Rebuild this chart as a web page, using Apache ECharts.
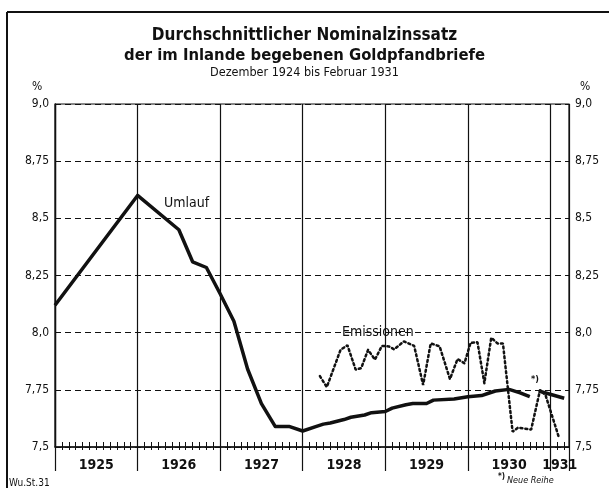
<!DOCTYPE html>
<html>
<head>
<meta charset="utf-8">
<script src="https://cdn.jsdelivr.net/npm/echarts@6/dist/echarts.min.js"></script>
<style>
  html, body { margin: 0; padding: 0; background: #fff; }
  #chart { width: 609px; height: 488px; }
</style>
</head>
<body>
<div id="chart"></div>
<script>
// Monate ab Dezember 1924 (= 0), Werte in %
const umlaufMonths = [0, 12, 18, 20, 22, 24, 26, 28, 30, 32, 34, 36, 38, 39, 40, 42, 43, 45, 46, 48, 49, 51, 52, 54, 55, 58, 60, 62, 63, 64, 66, 67.6, 69];
const umlaufValues = [8.12, 8.60, 8.45, 8.31, 8.285, 8.17, 8.05, 7.84, 7.69, 7.59, 7.59, 7.57, 7.59, 7.60, 7.605, 7.62, 7.63, 7.64, 7.65, 7.655, 7.67, 7.685, 7.69, 7.69, 7.705, 7.71, 7.72, 7.725, 7.735, 7.745, 7.752, 7.737, 7.72];
// neue Reihe *)
const umlaufNeuMonths = [70.3, 74];
const umlaufNeuValues = [7.745, 7.713];

const emisMonths = [38.5, 39.5, 41.5, 42.5, 43.7, 44.5, 45.5, 46.5, 47.5, 48.5, 49.3, 50.7, 52.2, 53.5, 54.6, 55.9, 57.4, 58.5, 59.5, 60.4, 61.4, 62.4, 63.4, 64.3, 65.1, 66.5, 67.3, 69.2, 70.5, 71.3, 73.2];
const emisValues = [7.81, 7.762, 7.925, 7.945, 7.838, 7.845, 7.925, 7.882, 7.942, 7.94, 7.927, 7.962, 7.942, 7.771, 7.953, 7.94, 7.797, 7.885, 7.866, 7.956, 7.958, 7.779, 7.978, 7.953, 7.953, 7.567, 7.585, 7.576, 7.75, 7.726, 7.545];

const yearLabels = ['1925', '1926', '1927', '1928', '1929', '1930', '1931'];
const yTickValues = [7.5, 7.75, 8.0, 8.25, 8.5, 8.75, 9.0];
const yTickLabels = ['7,5', '7,75', '8,0', '8,25', '8,5', '8,75', '9,0'];

const xMax = 74.7;
const pairs = (xs, ys) => xs.map((x, i) => [x, ys[i]]);
// Jahresmitte als Beschriftungsposition, letztes Jahr nur bis zum Rand
const yearCenters = yearLabels.map((_, i) => Math.min(i * 12 + 6, (i * 12 + xMax) / 2));

const font = '"DejaVu Sans Condensed", "DejaVu Sans", sans-serif';
const ink = '#111';

const yLabel = v => {
  const i = yTickValues.findIndex(t => Math.abs(t - v) < 1e-6);
  return i < 0 ? '' : yTickLabels[i];
};

const chart = echarts.init(document.getElementById('chart'));

const option = {
  backgroundColor: '#fff',
  animation: false,
  grid: { left: 55, right: 40, top: 104, bottom: 41, show: true, borderColor: ink, borderWidth: 1.2, backgroundColor: 'transparent' },
  xAxis: [
    {
      type: 'value', min: 0, max: xMax, interval: 1, position: 'bottom',
      axisLine: { show: true, lineStyle: { color: ink, width: 1.5 } },
      axisTick: { show: true, inside: true, length: 5, lineStyle: { color: ink, width: 1 } },
      axisLabel: { show: false }, splitLine: { show: false }
    },
    {
      type: 'value', min: 0, max: xMax, interval: 1, position: 'bottom', offset: 0,
      axisLine: { show: false },
      axisTick: { show: true, inside: false, length: 3, lineStyle: { color: ink, width: 1 } },
      axisLabel: { show: false }, splitLine: { show: false }
    },
    {
      type: 'value', min: 0, max: xMax, interval: 12, position: 'bottom', offset: 0,
      axisLine: { show: false },
      axisTick: { show: true, inside: false, length: 24, lineStyle: { color: ink, width: 1.2 } },
      axisLabel: { show: false },
      splitLine: { show: true, lineStyle: { color: ink, width: 1.2 } }
    },
    {
      type: 'value', min: 0, max: xMax, position: 'bottom', offset: 0,
      axisLine: { show: false }, axisTick: { show: false }, splitLine: { show: false },
      axisLabel: {
        show: true, customValues: yearCenters, margin: 11,
        formatter: v => {
          const i = yearCenters.findIndex(c => Math.abs(c - v) < 1e-6);
          return i < 0 ? '' : yearLabels[i];
        },
        color: ink, fontFamily: font, fontWeight: 'bold', fontSize: 14
      }
    }
  ],
  yAxis: [
    {
      type: 'value', min: 7.5, max: 9.0, interval: 0.25, position: 'left',
      axisLine: { show: true, lineStyle: { color: ink, width: 1.2 } },
      axisTick: { show: false },
      axisLabel: { formatter: yLabel, color: ink, fontFamily: font, fontSize: 12, margin: 6 },
      splitLine: { show: true, lineStyle: { color: ink, width: 1, type: [6, 4] } }
    },
    {
      type: 'value', min: 7.5, max: 9.0, interval: 0.25, position: 'right',
      axisLine: { show: true, lineStyle: { color: ink, width: 1.2 } },
      axisTick: { show: false },
      axisLabel: { formatter: yLabel, color: ink, fontFamily: font, fontSize: 12, margin: 6 },
      splitLine: { show: false }
    }
  ],
  series: [
    {
      name: 'Umlauf', type: 'line', xAxisIndex: 0, yAxisIndex: 0,
      data: pairs(umlaufMonths, umlaufValues),
      showSymbol: false, z: 5,
      lineStyle: { color: ink, width: 3.5, join: 'round' }
    },
    {
      name: 'Umlauf neue Reihe', type: 'line', xAxisIndex: 0, yAxisIndex: 0,
      data: pairs(umlaufNeuMonths, umlaufNeuValues),
      showSymbol: false, z: 5,
      lineStyle: { color: ink, width: 3.5 }
    },
    {
      name: 'Emissionen', type: 'line', xAxisIndex: 0, yAxisIndex: 0,
      data: pairs(emisMonths, emisValues),
      showSymbol: false, z: 4,
      lineStyle: { color: ink, width: 2.5, type: [2, 3], cap: 'round' }
    }
  ],
  graphic: [
    { type: 'line', shape: { x1: 7, y1: 12, x2: 609, y2: 12 }, style: { stroke: ink, lineWidth: 2 } },
    { type: 'line', shape: { x1: 7, y1: 12, x2: 7, y2: 488 }, style: { stroke: ink, lineWidth: 2 } },
    {
      type: 'text', left: 'center', top: 27,
      style: { text: 'Durchschnittlicher Nominalzinssatz', font: 'bold 17px ' + font, fill: ink }
    },
    {
      type: 'text', left: 'center', top: 47,
      style: { text: 'der im Inlande begebenen Goldpfandbriefe', font: 'bold 16.5px ' + font, fill: ink }
    },
    {
      type: 'text', left: 'center', top: 66,
      style: { text: 'Dezember 1924 bis Februar 1931', font: '12.5px ' + font, fill: ink }
    },
    {
      type: 'text', left: 32, top: 81,
      style: { text: '%', font: '12px ' + font, fill: ink }
    },
    {
      type: 'text', left: 580, top: 81,
      style: { text: '%', font: '12px ' + font, fill: ink }
    },
    {
      type: 'text', left: 164, top: 196,
      style: { text: 'Umlauf', font: '14px ' + font, fill: ink }
    },
    {
      type: 'text', left: 340, top: 325,
      style: { text: 'Emissionen', font: '14px ' + font, fill: ink, backgroundColor: '#fff', padding: [0, 2] }
    },
    {
      type: 'text', left: 531, top: 375,
      style: { text: '*)', font: 'bold 9px ' + font, fill: ink }
    },
    {
      type: 'text', left: 498, top: 473,
      style: { text: '*)', font: 'bold 8px ' + font, fill: ink }
    },
    {
      type: 'text', left: 507, top: 476,
      style: { text: 'Neue Reihe', font: 'italic 9px ' + font, fill: ink }
    },
    {
      type: 'text', left: 9, top: 478,
      style: { text: 'Wu.St.31', font: '10px ' + font, fill: ink }
    }
  ]
};

option && chart.setOption(option);
</script>
</body>
</html>
